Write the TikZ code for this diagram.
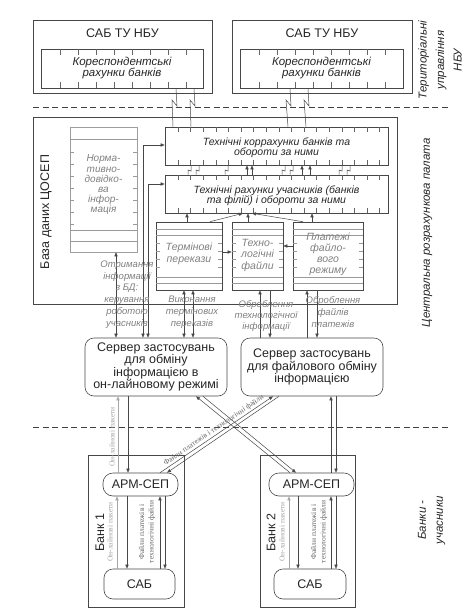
\documentclass[tikz,border=0pt]{standalone}
\usepackage{fontspec}
\setmainfont{Liberation Sans}
\newfontfamily\smallserif{Liberation Serif}
\usetikzlibrary{arrows.meta,calc}
\begin{document}
\begin{tikzpicture}[x=1pt,y=-1pt,
  frame/.style={draw=black!72, line width=0.6pt, inner sep=0pt, rectangle},
  lite/.style={draw=black!38, line width=0.5pt, inner sep=0pt, rectangle},
  rbox/.style={frame, rounded corners=9pt, align=center, text=black!85},
  txt/.style={inner sep=0pt, align=center, text=black!85},
  gtx/.style={inner sep=0pt, align=center, text=black!50},
  stx/.style={inner sep=0pt, align=center, text=black!60, font=\smallserif\fontsize{7.5}{9.5}\selectfont},
  ln/.style={draw=black!72, line width=0.5pt},
  gln/.style={draw=black!35, line width=0.5pt},
  tickln/.style={draw=black!60, line width=0.45pt},
  stripe/.style={draw=black!40, line width=0.45pt},
  arr/.style={ln, -{Triangle[length=4pt,width=3.2pt]}},
  garr/.style={gln, -{Triangle[length=4pt,width=3.2pt]}},
  barr/.style={ln, {Triangle[length=4pt,width=3.2pt]}-{Triangle[length=4pt,width=3.2pt]}},
  dashline/.style={draw=black!75, line width=0.8pt, dash pattern=on 6pt off 3.5pt},
]
\path[use as bounding box] (0,0) rectangle (474,614);

% ---------- top: territorial departments ----------
\node[frame, minimum width=179pt, minimum height=73pt] (t1) at (122.5,56.5) {};
\node[txt, font=\fontsize{12.5}{14}\selectfont] (t1l) at (122.5,33) {САБ ТУ НБУ};
\node[frame, minimum width=162pt, minimum height=39pt] (k1) at (122,68.5) {};
\foreach \x in {60,78,...,186} {\draw[tickln] (\x,49) -- (\x,55); \draw[tickln] (\x,88) -- (\x,82);}
\node[txt, font=\itshape\fontsize{11.5}{11}\selectfont] (k1l) at (122,68) {Кореспондентські\\рахунки банків};

\node[frame, minimum width=180pt, minimum height=73pt] (t2) at (322,56.5) {};
\node[txt, font=\fontsize{12.5}{14}\selectfont] (t2l) at (322,33) {САБ ТУ НБУ};
\node[frame, minimum width=163pt, minimum height=39pt] (k2) at (321.5,68.5) {};
\foreach \x in {259,277,...,385} {\draw[tickln] (\x,49) -- (\x,55); \draw[tickln] (\x,88) -- (\x,82);}
\node[txt, font=\itshape\fontsize{11.5}{11}\selectfont] (k2l) at (321.5,68) {Кореспондентські\\рахунки банків};

\node[txt, rotate=90, font=\itshape\fontsize{11.5}{17.5}\selectfont] (lab1) at (440,60) {Територіальні\\управління\\НБУ};

\coordinate (da1) at (33,107); \coordinate (da2) at (450,107);
\draw[dashline] (da1) -- (da2);

% ---------- database ----------
\node[frame, minimum width=364pt, minimum height=187pt] (db) at (215,210.5) {};
\node[txt, rotate=90, font=\fontsize{12.5}{15}\selectfont] (dbl) at (46,212) {База даних ЦОСЕП};

\node[lite, minimum width=67pt, minimum height=125pt] (nv) at (103.5,189.5) {};
\foreach \y in {139,230,241} {\draw[stripe] (70,\y) -- (137,\y);}
\foreach \y in {152,164,...,224} {\draw[stripe] (70,\y) -- (74,\y); \draw[stripe] (133,\y) -- (137,\y);}
\node[gtx, font=\itshape\fontsize{10}{10.2}\selectfont] (nvl) at (103.5,185) {Норма-\\тивно-\\довідко-\\ва\\інфор-\\мація};

\node[frame, minimum width=223pt, minimum height=38pt] (tc) at (276.5,146) {};
\node[frame, minimum width=223pt, minimum height=38pt] (ta) at (276.5,194) {};
\foreach \i in {0,...,16} {
  \pgfmathsetmacro\xx{178+12.6*\i}
  \draw[tickln] (\xx,127) -- (\xx,132); \draw[tickln] (\xx,165) -- (\xx,160);
  \draw[tickln] (\xx,175) -- (\xx,180); \draw[tickln] (\xx,213) -- (\xx,208);
}
\node[txt, font=\itshape\fontsize{10.5}{10.5}\selectfont] (tcl) at (276.5,147.5) {Технічні коррахунки банків та\\обороти за ними};
\node[txt, font=\itshape\fontsize{10.5}{10.5}\selectfont] (tal) at (276.5,195.5) {Технічні рахунки учасників (банків\\та філій) і обороти за ними};

% lightning between correspondent accounts and technical accounts
\foreach \x/\y in {176/173,194/191} {
  \draw[ln] (\x,0 |- k1.south) -- (\x+1,106) -- (\x-4,100) -- (\y,0 |- tc.north);}
\foreach \x/\y in {290/288,308/306} {
  \draw[ln] (\x,0 |- k2.south) -- (\x+1,106) -- (\x-4,100) -- (\y,0 |- tc.north);}

% between tc and ta
\foreach \x in {188,196,225,282,290,339,347} {
  \draw[ln] (\x,0 |- ta.north) -- (\x,170) -- (\x+3,171) -- ({\x+3},0 |- tc.south);}
\foreach \x in {247,252,302,310} {\draw[arr] (\x,0 |- ta.north) -- (\x,0 |- tc.south);}

% bottom row
\node[frame, minimum width=66pt, minimum height=68pt] (tp) at (189,256) {};
\node[frame, minimum width=51pt, minimum height=68pt] (tf) at (257.5,256) {};
\node[frame, minimum width=70pt, minimum height=68pt] (pf) at (328,256) {};
\foreach \a/\b in {156/222,232/283,293/363} {
  \foreach \y in {229,235.5,277,283.5} {\draw[stripe] (\a,\y) -- (\b,\y);}
  \foreach \y in {243,251,259,267} {\draw[stripe] (\a,\y) -- (\a+4,\y); \draw[stripe] (\b-4,\y) -- (\b,\y);}
}
\node[gtx, font=\itshape\fontsize{10.5}{12}\selectfont] (tpl) at (189,254) {Термінові\\перекази};
\node[gtx, font=\itshape\fontsize{10.5}{11.5}\selectfont] (tfl) at (257.5,255) {Техно-\\логічні\\файли};
\node[gtx, font=\itshape\fontsize{10.5}{11}\selectfont] (pfl) at (328,254) {Платежі\\файло-\\вого\\режиму};

\draw[arr] (tp.east |- 0,252) -- (tf.west |- 0,252);
\draw[arr] (pf.west |- 0,246) -- (tf.east |- 0,246);
\draw[arr] (187,0 |- tp.north) -- (187,0 |- ta.south);
\draw[arr] (210,0 |- tp.north) -- (243,0 |- ta.south);
\draw[arr] (303,0 |- pf.north) -- (252,0 |- ta.south);
\draw[arr] (248,0 |- tf.north) -- (248,0 |- ta.south);
\draw[arr] (312,0 |- pf.north) -- (312,0 |- ta.south);

% ---------- servers ----------
\node[rbox, minimum width=142pt, minimum height=58pt, font=\fontsize{12.5}{12.3}\selectfont] (s1) at (156,367)
  {Сервер застосувань\\для обміну\\інформацією в\\он-лайновому режимі};
\node[rbox, minimum width=142pt, minimum height=58pt, font=\fontsize{12.5}{12.3}\selectfont] (s2) at (312,367)
  {Сервер застосувань\\для файлового обміну\\інформацією};

% database <-> servers
\draw[barr] (143,0 |- s1.north) -- (143,145) -- (tc.west |- 0,145);
\draw[barr] (148,0 |- s1.north) -- (148,184) -- (ta.west |- 0,184);
\draw[barr] (116,0 |- nv.south) -- (116,0 |- s1.north);
\draw[barr] (184,0 |- tp.south) -- (184,0 |- s1.north);
\draw[barr] (193,0 |- tp.south) -- (193,0 |- s1.north);
\draw[arr] (260,0 |- s2.north) -- (260,0 |- tf.south);
\draw[arr] (270,0 |- tf.south) -- (270,0 |- s2.north);
\draw[arr] (307,0 |- s2.north) -- (307,0 |- pf.south);
\draw[arr] (317,0 |- pf.south) -- (317,0 |- s2.north);

\node[gtx, font=\itshape\fontsize{9.5}{11.8}\selectfont] (l1) at (127,294.5) {Отримання\\інформації\\з БД:\\керування\\роботою\\учасників};
\node[gtx, font=\itshape\fontsize{9.5}{11.8}\selectfont] (l2) at (192,312) {Виконання\\термінових\\переказів};
\node[gtx, font=\itshape\fontsize{9.5}{11}\selectfont] (l3) at (266,316) {Оброблення\\технологічної\\інформації};
\node[gtx, font=\itshape\fontsize{9.5}{11.8}\selectfont] (l4) at (333,312) {Оброблення\\файлів\\платежів};

\node[txt, rotate=90, font=\itshape\fontsize{11.5}{13}\selectfont] (lab2) at (427,233) {Центральна розрахункова палата};

\coordinate (db1) at (33,427); \coordinate (db2) at (450,427);
\draw[dashline] (db1) -- (db2);

% ---------- banks ----------
\node[frame, minimum width=96pt, minimum height=152pt] (b1) at (136,531) {};
\node[frame, minimum width=95pt, minimum height=152pt] (b2) at (307.5,531) {};
\node[rbox, rounded corners=10pt, minimum width=75pt, minimum height=23pt, font=\fontsize{12.5}{14}\selectfont] (a1) at (140.5,484.5) {АРМ-СЕП};
\node[rbox, rounded corners=10pt, minimum width=85pt, minimum height=23pt, font=\fontsize{12.5}{14}\selectfont] (a2) at (311.5,484.5) {АРМ-СЕП};
\node[rbox, minimum width=71pt, minimum height=30pt, font=\fontsize{12.5}{14}\selectfont] (c1) at (139.5,584) {САБ};
\node[rbox, minimum width=72pt, minimum height=30pt, font=\fontsize{12.5}{14}\selectfont] (c2) at (310,584) {САБ};
\node[txt, rotate=90, font=\fontsize{12.5}{14}\selectfont] (b1l) at (100,533) {Банк 1};
\node[txt, rotate=90, font=\fontsize{12.5}{14}\selectfont] (b2l) at (271,533) {Банк 2};

\node[txt, rotate=90, font=\itshape\fontsize{11.5}{17}\selectfont] (lab3) at (431.5,520) {Банки -\\учасники};

% bank 1 inside
\draw[garr] (117,0 |- c1.north) -- (117,0 |- a1.south);
\draw[arr] (127,0 |- a1.south) -- (127,0 |- c1.north);
\draw[arr] (160,0 |- c1.north) -- (160,0 |- a1.south);
\draw[arr] (165,0 |- a1.south) -- (165,0 |- c1.north);
\node[stx, rotate=90, text=black!35] (p1) at (110,532) {Он-лайнові пакети};
\node[stx, rotate=90] (f1) at (147,532) {Файли платежів і\\технологічні файли};
% bank 2 inside
\draw[garr] (289,0 |- c2.north) -- (289,0 |- a2.south);
\draw[arr] (298,0 |- a2.south) -- (298,0 |- c2.north);
\draw[arr] (331,0 |- c2.north) -- (331,0 |- a2.south);
\draw[arr] (336,0 |- a2.south) -- (336,0 |- c2.north);
\node[stx, rotate=90, text=black!35] (p2) at (282,532) {Он-лайнові пакети};
\node[stx, rotate=90] (f2) at (319,532) {Файли платежів і\\технологічні файли};

% servers <-> ARM
\draw[garr] (118,0 |- a1.north) -- (118,0 |- s1.south);
\draw[arr] (128,0 |- s1.south) -- (128,0 |- a1.north);
\node[stx, rotate=90, text=black!35] (p0) at (112,437) {Он-лайнові пакети};
\draw[arr] (331,0 |- a2.north) -- (331,0 |- s2.south);
\draw[arr] (336,0 |- s2.south) -- (336,0 |- a2.north);

\coordinate (d1a) at (290,0 |- a2.north); \coordinate (d1b) at (196,0 |- s1.south);
\coordinate (d2a) at (203,0 |- s1.south); \coordinate (d2b) at (296,0 |- a2.north);
\coordinate (d3a) at (160,0 |- a1.north); \coordinate (d3b) at (273,0 |- s2.south);
\coordinate (d4a) at (279,0 |- s2.south); \coordinate (d4b) at (167,0 |- a1.north);
\draw[arr] (d1a) -- (d1b);
\draw[arr] (d2a) -- (d2b);
\draw[arr] (d3a) -- (d3b);
\draw[arr] (d4a) -- (d4b);
\node[stx, rotate=34.3, anchor=south, inner sep=1.2pt] (dl) at ($(d3a)!0.5!(d3b)$) {Файли платежів і технологічні файли};
\end{tikzpicture}
\end{document}
